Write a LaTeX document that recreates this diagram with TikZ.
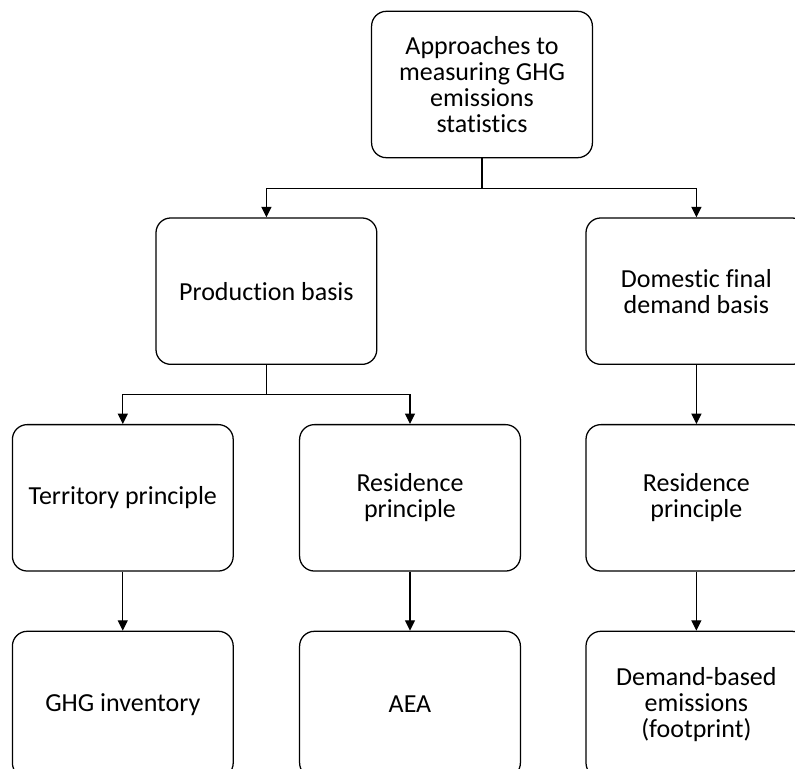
\documentclass[tikz,border=0pt]{standalone}
\usepackage{fontspec}
\setmainfont{Carlito}[Ligatures=NoCommon]
\usepackage{tikz}
\usetikzlibrary{shapes,arrows.meta,positioning,calc}

\begin{document}
\begin{tikzpicture}[node distance=1.475cm, auto]
  \tikzstyle{box} = [rectangle, draw=black, fill=white, align=center, rounded corners=0.37cm, minimum width=5.52cm, minimum height=3.66cm, line width=0.9pt, font=\fontsize{18.5}{18.5}\selectfont]
  \tikzstyle{link} = [line width=0.9pt, -{Triangle[length=0.26cm, width=0.25cm]}]

  \useasboundingbox (0,0) rectangle (19.875,-19.225);

  % top level
  \node [box] (top) at (12.05,-2.1125) {Approaches to\\measuring GHG\\emissions\\statistics};

  % bases
  \node [box, below=of top, xshift=-5.39cm] (prod) {Production basis};
  \node [box, below=of top, xshift=5.36cm] (dom) {Domestic final\\demand basis};

  % principles
  \node [box, below=of prod, xshift=-3.59cm] (terr) {Territory principle};
  \node [box, below=of prod, xshift=3.59cm] (resp) {Residence\\principle};
  \node [box, below=of dom] (resd) {Residence\\principle};

  % statistics
  \node [box, below=of terr] (ghg) {GHG inventory};
  \node [box, below=of resp] (aea) {AEA};
  \node [box, below=of resd] (dbe) {Demand-based\\emissions\\(footprint)};

  % connectors
  \draw [line width=0.9pt] (top.south) -- ++(0,-0.75) coordinate (j1);
  \draw [link] (j1) -| (prod.north);
  \draw [link] (j1) -| (dom.north);
  \draw [line width=0.9pt] (prod.south) -- ++(0,-0.73) coordinate (j2);
  \draw [link] (j2) -| (terr.north);
  \draw [link] (j2) -| (resp.north);
  \draw [link] (dom) -- (resd);
  \draw [link] (terr) -- (ghg);
  \draw [link] (resp) -- (aea);
  \draw [link] (resd) -- (dbe);
\end{tikzpicture}
\end{document}
